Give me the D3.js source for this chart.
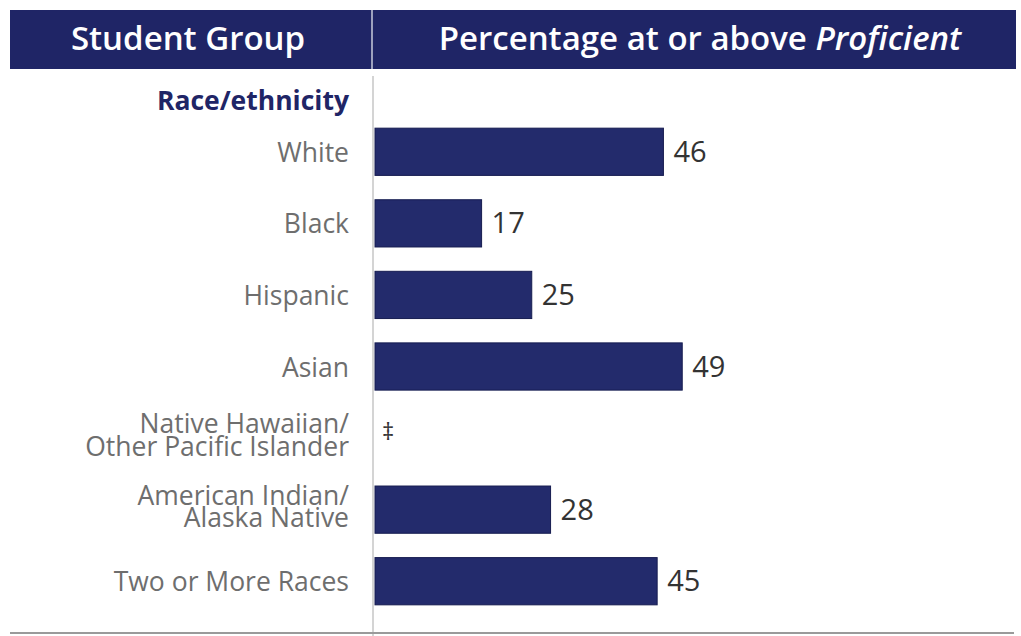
<!DOCTYPE html>
<html>
<head>
<meta charset="utf-8">
<script src="https://cdn.jsdelivr.net/npm/d3@7/dist/d3.min.js"></script>
<style>
  html, body { margin: 0; padding: 0; background: #ffffff; }
  svg { display: block; font-family: "Open Sans", "Noto Sans", sans-serif; }
</style>
</head>
<body>
<svg id="chart" width="1021" height="636"></svg>
<script>
// Student groups (label lines) and percentage at or above Proficient
const groups = [
  ["White"],
  ["Black"],
  ["Hispanic"],
  ["Asian"],
  ["Native Hawaiian/", "Other Pacific Islander"],
  ["American Indian/", "Alaska Native"],
  ["Two or More Races"]
];
const values = [46, 17, 25, 49, null, 28, 45];   // null = reporting standards not met
const missingMark = "\u2021";
const sectionTitle = "Race/ethnicity";
const headers = ["Student Group", "Percentage at or above "];
const headerItalic = "Proficient";

const svg = d3.select("#chart");
const navy = "#1f2566";
const barFill = "#232b6c";

const axisX = 373;
const x = d3.scaleLinear().domain([0, 100]).range([axisX + 2, axisX + 2 + 627]);
const y = d3.scaleBand()
  .domain(d3.range(groups.length))
  .range([116, 617])
  .paddingInner(0.34)
  .paddingOuter(0.17);

// Header band
svg.append("rect").attr("x", 10).attr("y", 10).attr("width", 1006).attr("height", 59).attr("fill", navy);
svg.append("line").attr("x1", axisX - 1).attr("x2", axisX - 1).attr("y1", 10).attr("y2", 69)
  .attr("stroke", "#c9cbdc").attr("stroke-width", 1.5);
svg.append("text").attr("x", 188).attr("y", 50).attr("text-anchor", "middle")
  .attr("fill", "#ffffff").attr("font-size", 33).attr("font-weight", 600).text(headers[0]);
const h2 = svg.append("text").attr("x", 700).attr("y", 50).attr("text-anchor", "middle")
  .attr("fill", "#ffffff").attr("font-size", 33).attr("font-weight", 600);
h2.append("tspan").text(headers[1]);
h2.append("tspan").attr("font-style", "italic").text(headerItalic);

// Vertical divider and bottom rule
svg.append("line").attr("x1", axisX).attr("x2", axisX).attr("y1", 76).attr("y2", 636)
  .attr("stroke", "#b8b8b8").attr("stroke-width", 1.2);
svg.append("line").attr("x1", 10).attr("x2", 1014).attr("y1", 633).attr("y2", 633)
  .attr("stroke", "#9a9a9a").attr("stroke-width", 2);

// Section title
svg.append("text").attr("x", 349).attr("y", 110).attr("text-anchor", "end")
  .attr("fill", navy).attr("font-size", 26.5).attr("font-weight", 700).text(sectionTitle);

// Group labels
const labels = svg.append("g").selectAll("text").data(groups).join("text")
  .attr("x", 349)
  .attr("text-anchor", "end")
  .attr("fill", "#6e6e6e")
  .attr("font-size", 26.5)
  .attr("y", (d, i) => y(i) + y.bandwidth() / 2 + (d.length > 1 ? -5 : 10));
labels.selectAll("tspan").data(d => d).join("tspan")
  .attr("x", 349)
  .attr("dy", (d, i) => i === 0 ? 0 : 22.5)
  .text(d => d);

// Bars
svg.append("g").selectAll("rect").data(values.map((v, i) => ({v, i})).filter(d => d.v !== null))
  .join("rect")
  .attr("x", x(0))
  .attr("y", d => y(d.i))
  .attr("width", d => x(d.v) - x(0))
  .attr("height", y.bandwidth())
  .attr("fill", barFill)
  .attr("stroke", "#161c50")
  .attr("stroke-width", 1);

// Value labels
svg.append("g").selectAll("text").data(values.map((v, i) => ({v, i})))
  .join("text")
  .attr("x", d => d.v === null ? x(0) + 7 : x(d.v) + 10)
  .attr("y", d => d.v === null ? y(d.i) + y.bandwidth() / 2 + 2 : y(d.i) + y.bandwidth() / 2 + 10)
  .attr("fill", "#333333")
  .attr("font-size", d => d.v === null ? 24 : 29)
  .text(d => d.v === null ? missingMark : d.v);
</script>
</body>
</html>
